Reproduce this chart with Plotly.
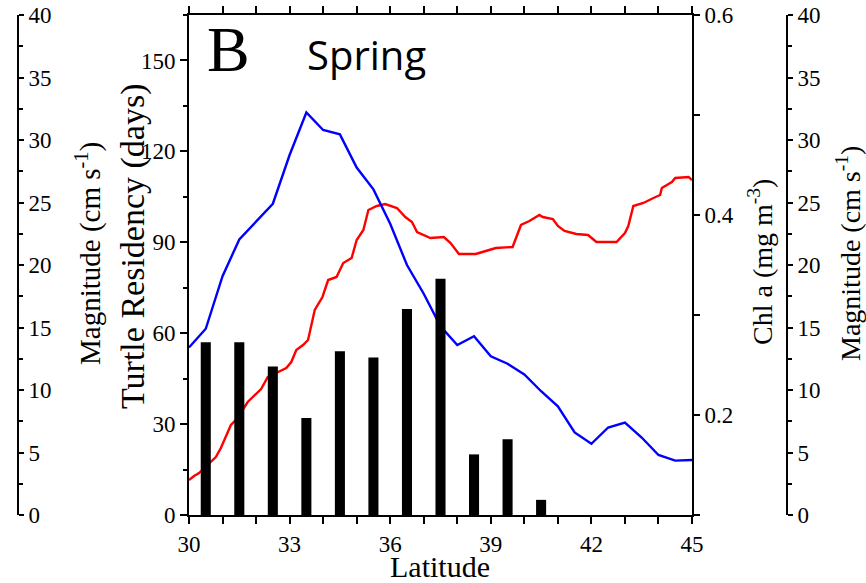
import plotly.graph_objects as go

# ---------------- data ----------------
bar_lat = [30.5, 31.5, 32.5, 33.5, 34.5, 35.5, 36.5, 37.5, 38.5, 39.5, 40.5]
residency_days = [57, 57, 49, 32, 54, 52, 68, 78, 20, 25, 5]

mag_lat = [30.0, 30.5, 31.0, 31.5, 32.5, 33.0, 33.5, 34.0, 34.5, 35.0, 35.5, 36.0,
           36.5, 37.0, 37.5, 38.0, 38.5, 39.0, 39.5, 40.0, 40.5, 41.0, 41.5, 42.0,
           42.5, 43.0, 43.5, 44.0, 44.5, 45.0]
magnitude = [13.4, 14.9, 19.1, 22.05, 24.9, 28.8, 32.2, 30.8, 30.45, 27.8, 26.05, 23.3,
             20.0, 17.7, 15.1, 13.6, 14.3, 12.7, 12.1, 11.25, 9.9, 8.7, 6.6, 5.7,
             7.0, 7.4, 6.2, 4.8, 4.35, 4.4]

chl_lat = [30.0, 30.15, 30.3, 30.6, 30.8, 30.95, 31.1, 31.25, 31.45, 31.6, 31.75,
           32.15, 32.35, 32.6, 32.9, 33.05, 33.2, 33.4, 33.55, 33.75, 33.98, 34.15,
           34.4, 34.6, 34.85, 35.0, 35.2, 35.35, 35.6, 35.85, 36.2, 36.45, 36.65,
           36.8, 37.2, 37.6, 37.8, 38.05, 38.55, 38.85, 39.15, 39.65, 39.9, 40.15,
           40.45, 40.55, 40.85, 41.0, 41.2, 41.55, 41.9, 42.15, 42.75, 43.0, 43.1,
           43.25, 43.55, 43.85, 44.05, 44.1, 44.4, 44.5, 44.9, 45.0]
chl = [0.135, 0.139, 0.142, 0.152, 0.158, 0.167, 0.178, 0.190, 0.197, 0.205, 0.213,
       0.226, 0.238, 0.242, 0.247, 0.253, 0.265, 0.270, 0.275, 0.305, 0.318, 0.335,
       0.338, 0.352, 0.357, 0.375, 0.385, 0.405, 0.409, 0.411, 0.407, 0.398, 0.393,
       0.383, 0.377, 0.378, 0.372, 0.361, 0.361, 0.364, 0.367, 0.368, 0.390, 0.394,
       0.400, 0.398, 0.396, 0.389, 0.384, 0.381, 0.380, 0.373, 0.373, 0.382, 0.389,
       0.409, 0.412, 0.417, 0.420, 0.427, 0.433, 0.437, 0.438, 0.435]

lat_ticks = [30, 33, 36, 39, 42, 45]
residency_ticks = [0, 30, 60, 90, 120, 150]
chl_ticks = [0.2, 0.4, 0.6]
mag_ticks = [0, 5, 10, 15, 20, 25, 30, 35, 40]

# ---------------- layout helpers ----------------
W, H = 866, 583
def px(x):
    return x / W
def py(y):
    return 1 - y / H

SERIF = "Liberation Serif, Times New Roman, serif"

def tf():
    return dict(family=SERIF, size=23, color="black")

def axis_style(**kw):
    d = dict(showgrid=False, zeroline=False, showline=True, linecolor="black",
             ticks="outside", tickcolor="black", tickfont=tf(), automargin=False,
             linewidth=2, tickwidth=1.5)
    d.update(kw)
    return d

fig = go.Figure()

fig.add_trace(go.Scatter(x=chl_lat, y=chl, mode="lines", yaxis="y",
                         line=dict(color="#ff0000", width=2.4), showlegend=False))
fig.add_trace(go.Scatter(x=mag_lat, y=magnitude, mode="lines", yaxis="y2",
                         line=dict(color="#0000ff", width=2.4), showlegend=False))
fig.add_trace(go.Scatter(x=[None], y=[None], yaxis="y3", showlegend=False))
fig.add_trace(go.Bar(x=bar_lat, y=residency_days, yaxis="y4", width=0.3,
                     marker=dict(color="black", line=dict(width=0)), showlegend=False))

x0, x1 = px(189), px(692)
y0, y1 = py(515), py(15)

fig.update_layout(
    width=W, height=H,
    font=dict(family=SERIF, size=23, color="black"),
    margin=dict(l=0, r=0, t=0, b=0, autoexpand=False),
    paper_bgcolor="white", plot_bgcolor="white",
    xaxis=axis_style(domain=[x0, x1], range=[30, 45], tickvals=lat_ticks,
                     mirror="allticks", ticklen=7,
                     minor=dict(dtick=1, tick0=30, ticklen=4, tickcolor="black", ticks="outside")),
    yaxis=axis_style(domain=[y0, y1], range=[0.1, 0.6], side="right", anchor="x",
                     tickvals=chl_ticks, ticklen=6,
                     minor=dict(dtick=0.1, tick0=0.1, ticklen=6, tickcolor="black", ticks="outside")),
    yaxis2=axis_style(overlaying="y", range=[0, 40], side="right", anchor="free",
                      position=px(787), tickvals=mag_ticks, ticklen=5,
                      minor=dict(dtick=2.5, tick0=0, ticklen=4, tickcolor="black", ticks="outside")),
    yaxis3=axis_style(overlaying="y", range=[0, 40], side="right", anchor="free",
                      position=px(18), tickvals=mag_ticks, ticklen=5,
                      minor=dict(dtick=2.5, tick0=0, ticklen=4, tickcolor="black", ticks="outside")),
    yaxis4=axis_style(overlaying="y", range=[0, 165], side="left", anchor="x",
                      tickvals=residency_ticks, ticklen=7,
                      minor=dict(dtick=15, tick0=0, ticklen=4, tickcolor="black", ticks="outside")),
)

ann = []
def add_text(text, x, y, size, angle=0, family=SERIF):
    ann.append(dict(text=text, x=px(x), y=py(y), xref="paper", yref="paper",
                    showarrow=False, textangle=angle, xanchor="center", yanchor="middle",
                    font=dict(family=family, size=size, color="black")))

add_text("Latitude", 440, 566, 30)
add_text("Turtle Residency (days)", 133, 247, 34, -90)
add_text("Magnitude (cm s<sup>-1</sup>)", 88, 254, 29, -90)
add_text("Chl a (mg m<sup>-3</sup>)", 760, 262, 28, -90)
add_text("Magnitude (cm s<sup>-1</sup>)", 848, 254, 28, -90)
add_text("B", 228, 50, 64)
add_text("Spring", 366, 55, 40, family="Open Sans")

fig.update_layout(annotations=ann)

fig.write_html("out.html", config={"displayModeBar": False},
               post_script="document.body.style.margin='0';document.body.style.overflow='hidden';")
